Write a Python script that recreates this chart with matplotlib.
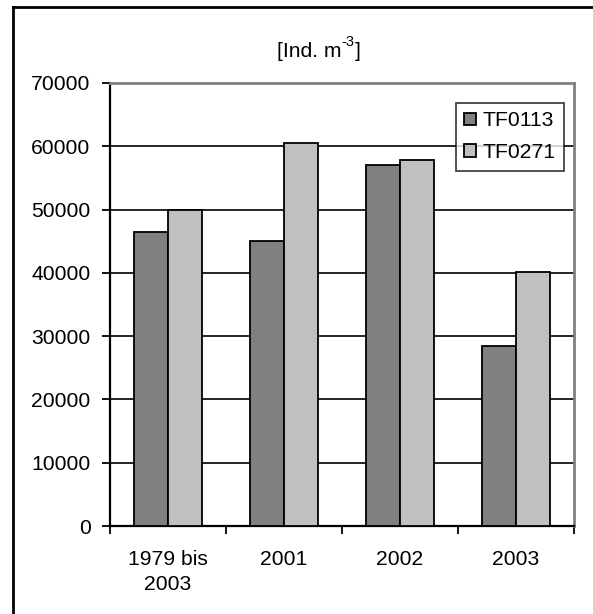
import matplotlib
matplotlib.use("Agg")
import matplotlib.pyplot as plt
from matplotlib.lines import Line2D
import numpy as np

plt.rcParams['font.family'] = ['Liberation Sans', 'DejaVu Sans']

categories = ["1979 bis\n2003", "2001", "2002", "2003"]
series_names = ["TF0113", "TF0271"]
tf0113 = [46500, 45000, 57000, 28400]
tf0271 = [50000, 60500, 57800, 40200]
y_ticks = [0, 10000, 20000, 30000, 40000, 50000, 60000, 70000]

FS = 15.2
W, H = 593, 614
fig = plt.figure(figsize=(W / 100, H / 100), dpi=100)
ax = fig.add_axes([110 / W, 1 - 526 / H, (574 - 110) / W, (526 - 83) / H])

x = np.arange(len(categories))
bw = 0.29
ax.bar(x - bw / 2, tf0113, bw, color="#808080", edgecolor="black", linewidth=1.3,
       label=series_names[0], zorder=3)
ax.bar(x + bw / 2, tf0271, bw, color="#c0c0c0", edgecolor="black", linewidth=1.3,
       label=series_names[1], zorder=3)

ax.set_xlim(-0.5, len(categories) - 0.5)
ax.set_ylim(0, 70000)
ax.set_yticks(y_ticks)
ax.set_yticklabels([str(v) for v in y_ticks], fontsize=FS)
ax.yaxis.grid(True, color="black", linewidth=1.2, zorder=1)
ax.set_axisbelow(True)

ax.set_xticks(x)
ax.set_xticklabels(categories, fontsize=FS, linespacing=1.4)
ax.set_xticks(np.arange(-0.5, len(categories)), minor=True)
ax.tick_params(axis="x", which="major", length=0, pad=17)
ax.tick_params(axis="x", which="minor", length=6, width=1.3, direction="out")
ax.tick_params(axis="y", length=6, width=1.3, direction="out", pad=8)

for side in ("top", "right"):
    ax.spines[side].set_color("#808080")
    ax.spines[side].set_linewidth(2)
for side in ("left", "bottom"):
    ax.spines[side].set_color("black")
    ax.spines[side].set_linewidth(1.6)

leg = ax.legend(loc="upper right",
                bbox_to_anchor=((564 - 110) / (574 - 110), (526 - 103) / (526 - 83)),
                bbox_transform=ax.transAxes,
                fontsize=FS, frameon=True, fancybox=False, edgecolor="black",
                handlelength=0.55, handleheight=0.55, handletextpad=0.3,
                borderpad=0.4, labelspacing=0.6, borderaxespad=0)
leg.get_frame().set_linewidth(1.2)

# unit label: "[Ind. m" + raised "-3" + "]"
t1 = fig.text(277 / W, 1 - 57 / H, "[Ind. m", ha="left", va="baseline", fontsize=FS)
t2 = ax.annotate("-3", xy=(1, 0.62), xycoords=t1, ha="left", va="bottom",
                 fontsize=10.5, annotation_clip=False)
t3 = ax.annotate("]", xy=(1, 0), xycoords=(t2, t1), ha="left", va="bottom",
                 fontsize=FS, annotation_clip=False)

fx, fy = 13 / W, 1 - 7 / H
fig.add_artist(Line2D([fx, fx], [0, fy], color="black", linewidth=2, transform=fig.transFigure))
fig.add_artist(Line2D([fx, 1], [fy, fy], color="black", linewidth=2, transform=fig.transFigure))

fig.savefig("out.png", dpi=100, facecolor="white")
